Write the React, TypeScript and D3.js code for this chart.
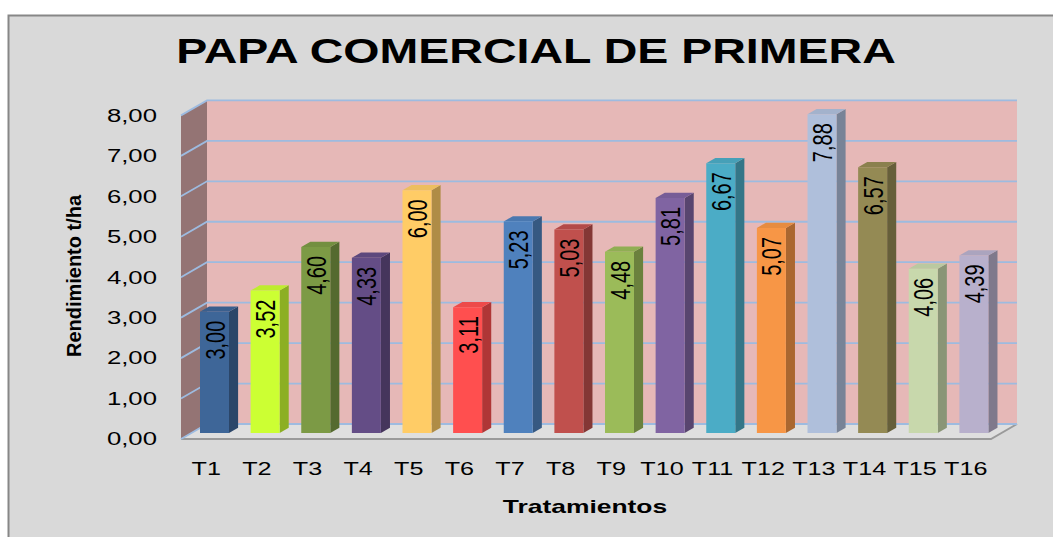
import React from "react";
import * as d3 from "d3";

const categories = ["T1","T2","T3","T4","T5","T6","T7","T8","T9","T10","T11","T12","T13","T14","T15","T16"];
const values = [3.00,3.52,4.60,4.33,6.00,3.11,5.23,5.03,4.48,5.81,6.67,5.07,7.88,6.57,4.06,4.39];
const barColors = ["#3e6698","#ccff33","#7c9a45","#644d86","#ffcc66","#ff4f4f","#4f81bd","#c0504d","#9bbb59","#8064a2","#4bacc6","#f79646","#afbfdb","#948a54","#c8d8ac","#b8b0cc"];
const yTicks = [0,1,2,3,4,5,6,7,8];
const yTickLabels = ["0,00","1,00","2,00","3,00","4,00","5,00","6,00","7,00","8,00"];
const title = "PAPA COMERCIAL DE PRIMERA";
const xTitle = "Tratamientos";
const yTitle = "Rendimiento t/ha";

const FONT = "'Liberation Sans', Arial, sans-serif";

export default function App() {
  // 3D frame
  const x0 = 181, yFloor = 439, plotW = 810;
  const depthX = 26, depthY = 15;
  const x = d3.scaleBand<string>().domain(categories).range([0, plotW]).padding(0);
  const v = d3.scaleLinear().domain([0, 8]).range([0, 8 * 40.45]);
  const P = (px: number, val: number, t: number): [number, number] => [
    x0 + px + t * depthX,
    yFloor - t * depthY - v(val),
  ];
  const poly = (pts: [number, number][]) => pts.map((p) => p.join(",")).join(" ");

  const tFront = 0.4, tDepth = 0.35;
  const barW = 29, barOff = 8.6;
  const gridColor = "#9dbbe0";

  return (
    <svg width={1053} height={537} style={{ position: "absolute", left: 0, top: 0 }}>
      <rect x={0} y={0} width={1053} height={537} fill="#ffffff" />
      <rect x={8.5} y={15.5} width={1100} height={600} fill="#d9d9d9" stroke="#878787" strokeWidth={2} />

      {/* title */}
      <text transform={`translate(536,63) scale(1.33,1)`} textAnchor="middle" fontFamily={FONT} fontWeight="bold" fontSize={35} fill="#000">{title}</text>

      {/* left wall */}
      <polygon points={poly([P(0, 0, 0), P(0, 8, 0), P(0, 8, 1), P(0, 0, 1)])} fill="#947474" />
      {/* back wall */}
      <polygon points={poly([P(0, 0, 1), P(0, 8, 1), P(plotW, 8, 1), P(plotW, 0, 1)])} fill="#e6b8b7" />
      {/* floor */}
      <polygon points={poly([P(0, 0, 0), P(plotW, 0, 0), P(plotW, 0, 1), P(0, 0, 1)])} fill="#dfdfdf" />
      <polyline points={poly([P(0, 0, 0), P(plotW, 0, 0), P(plotW, 0, 1)])} fill="none" stroke="#9a9a9a" strokeWidth={2} />

      {/* gridlines */}
      {yTicks.map((t) => (
        <polyline key={"g" + t} points={poly([P(0, t, 0), P(0, t, 1), P(plotW, t, 1)])} fill="none" stroke={gridColor} strokeWidth={1.8} />
      ))}

      {/* y tick labels */}
      {yTicks.map((t, i) => {
        const [, yy] = P(0, t, 0);
        return (
          <text key={"yl" + t} transform={`translate(157,${yy}) scale(1.47,1)`} textAnchor="end" dy="0.36em" fontFamily={FONT} fontSize={17.5} fill="#000">{yTickLabels[i]}</text>
        );
      })}

      {/* bars */}
      {categories.map((c, i) => {
        const bx = (x(c) as number) + barOff;
        const val = values[i];
        const col = d3.color(barColors[i])!;
        const side = col.darker(1.05).formatHex();
        const top = col.darker(0.2).formatHex();
        const fl = P(bx, 0, tFront), ft = P(bx, val, tFront);
        const frt = P(bx + barW, val, tFront), frb = P(bx + barW, 0, tFront);
        const brt = P(bx + barW, val, tFront + tDepth), brb = P(bx + barW, 0, tFront + tDepth);
        const blt = P(bx, val, tFront + tDepth);
        const cx = (ft[0] + frt[0]) / 2;
        return (
          <g key={c}>
            <polygon points={poly([frb, frt, brt, brb])} fill={side} />
            <polygon points={poly([ft, frt, brt, blt])} fill={top} />
            <polygon points={poly([fl, ft, frt, frb])} fill={barColors[i]} />
            <text transform={`translate(${cx},${ft[1]}) scale(1.4,1) rotate(-90)`} x={-9} dy="0.36em" textAnchor="end" fontFamily={FONT} fontSize={20} fill="#000">
              {val.toFixed(2).replace(".", ",")}
            </text>
          </g>
        );
      })}

      {/* x labels */}
      {categories.map((c) => {
        const cx = x0 + (x(c) as number) + x.bandwidth() / 2;
        return (
          <text key={"xl" + c} transform={`translate(${cx},475) scale(1.4,1)`} textAnchor="middle" fontFamily={FONT} fontSize={18} fill="#000">{c}</text>
        );
      })}

      {/* axis titles */}
      <text transform={`translate(585,513) scale(1.39,1)`} textAnchor="middle" fontFamily={FONT} fontWeight="bold" fontSize={19} fill="#000">{xTitle}</text>
      <text transform={`translate(81,276) scale(1.1,1) rotate(-90)`} textAnchor="middle" fontFamily={FONT} fontWeight="bold" fontSize={18} fill="#000" textLength={162} lengthAdjust="spacingAndGlyphs">{yTitle}</text>
    </svg>
  );
}
